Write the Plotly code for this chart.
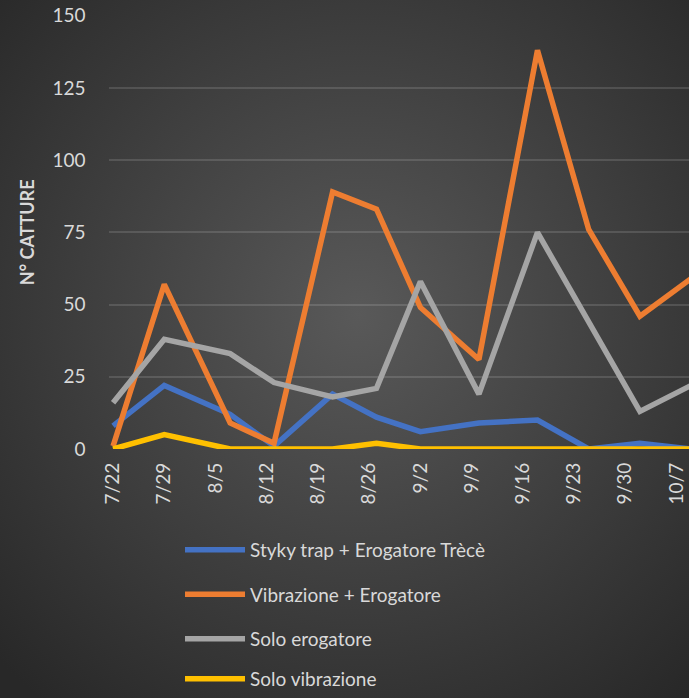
import base64
import plotly.graph_objects as go

# ---- data ----
dates = ["2019-07-22", "2019-07-29", "2019-08-07", "2019-08-13", "2019-08-21", "2019-08-27",
         "2019-09-02", "2019-09-10", "2019-09-18", "2019-09-25", "2019-10-02", "2019-10-09"]
styky = [8, 22, 12, 1, 19, 11, 6, 9, 10, 0, 2, 0]
vibr_erog = [1, 57, 9, 2, 89, 83, 49, 31, 138, 76, 46, 59]
solo_erog = [16, 38, 33, 23, 18, 21, 58, 19, 75, 44, 13, 22]
solo_vibr = [0, 5, 0, 0, 0, 2, 0, 0, 0, 0, 0, 0]
series_names = ["Styky trap + Erogatore Trècè", "Vibrazione + Erogatore",
                "Solo erogatore", "Solo vibrazione"]
tick_dates = ["2019-07-22", "2019-07-29", "2019-08-05", "2019-08-12", "2019-08-19", "2019-08-26",
              "2019-09-02", "2019-09-09", "2019-09-16", "2019-09-23", "2019-09-30", "2019-10-07"]
tick_text = ["7/22", "7/29", "8/5", "8/12", "8/19", "8/26", "9/2", "9/9", "9/16", "9/23", "9/30", "10/7"]
y_ticks = [0, 25, 50, 75, 100, 125, 150]

colors = ["#4472C4", "#ED7D31", "#A5A5A5", "#FFC000"]
legend_ids = ["legend", "legend", "legend", "legend2"]
FONT = "Lato"
TXT = "#d9d9d9"

W, H = 689, 698


def fy(px_from_top):
    """Convert a pixel distance from the figure top into a paper fraction."""
    return (H - px_from_top) / H


svg = f'''<svg xmlns="http://www.w3.org/2000/svg" width="{W}" height="{H}" viewBox="0 0 {W} {H}">
<defs><radialGradient id="g" cx="52%" cy="45%" r="72%">
<stop offset="0" stop-color="#595959"/><stop offset="1" stop-color="#282828"/>
</radialGradient></defs>
<rect width="{W}" height="{H}" fill="url(#g)"/></svg>'''
bg_uri = "data:image/svg+xml;base64," + base64.b64encode(svg.encode()).decode()

fig = go.Figure()
for name, vals, col, lg in zip(series_names, [styky, vibr_erog, solo_erog, solo_vibr], colors, legend_ids):
    fig.add_trace(go.Scatter(
        x=dates, y=vals, mode="lines", name=name, legendgroup=name, legend=lg,
        line=dict(color=col, width=5.5),
    ))

legend_style = dict(orientation="v", x=180 / W, xanchor="left",
                    bgcolor="rgba(0,0,0,0)", font=dict(size=19, color=TXT, family=FONT),
                    itemwidth=60, tracegroupgap=16.7)

fig.update_layout(
    width=W, height=H, autosize=False,
    margin=dict(l=0, r=0, t=0, b=0),
    paper_bgcolor="#2a2a2a",
    plot_bgcolor="rgba(0,0,0,0)",
    font=dict(family=FONT, color=TXT, size=19),
    images=[dict(source=bg_uri, xref="paper", yref="paper", x=0, y=1, sizex=1, sizey=1,
                 sizing="stretch", layer="below", xanchor="left", yanchor="top")],
    xaxis=dict(
        type="date", domain=[108.5 / W, 1],
        range=["2019-07-21 09:00", "2019-10-08 17:00"],
        tickmode="array", tickvals=tick_dates, ticktext=tick_text,
        tickangle=-90, showgrid=False, zeroline=False, showline=False,
        ticks="", ticklabelstandoff=9, automargin=False,
        tickfont=dict(size=19, color=TXT, family=FONT),
    ),
    yaxis=dict(
        domain=[fy(449), fy(15.7)], range=[0, 150],
        tickmode="array", tickvals=y_ticks,
        showgrid=True, gridcolor="rgba(255,255,255,0.13)", gridwidth=1.5,
        zeroline=False, showline=False, ticks="", ticklabelstandoff=22,
        automargin=False,
        tickfont=dict(size=19, color=TXT, family=FONT),
        title=dict(text="<b>N° CATTURE</b>", standoff=13,
                   font=dict(size=18, color=TXT, family=FONT)),
    ),
    showlegend=True,
    legend=dict(legend_style, y=fy(531), yanchor="top"),
    legend2=dict(legend_style, y=0, yanchor="bottom"),
)

fig.write_html("out.html",
               config={"responsive": False, "displayModeBar": False},
               post_script="document.body.style.margin='0';document.body.style.overflow='hidden';")
